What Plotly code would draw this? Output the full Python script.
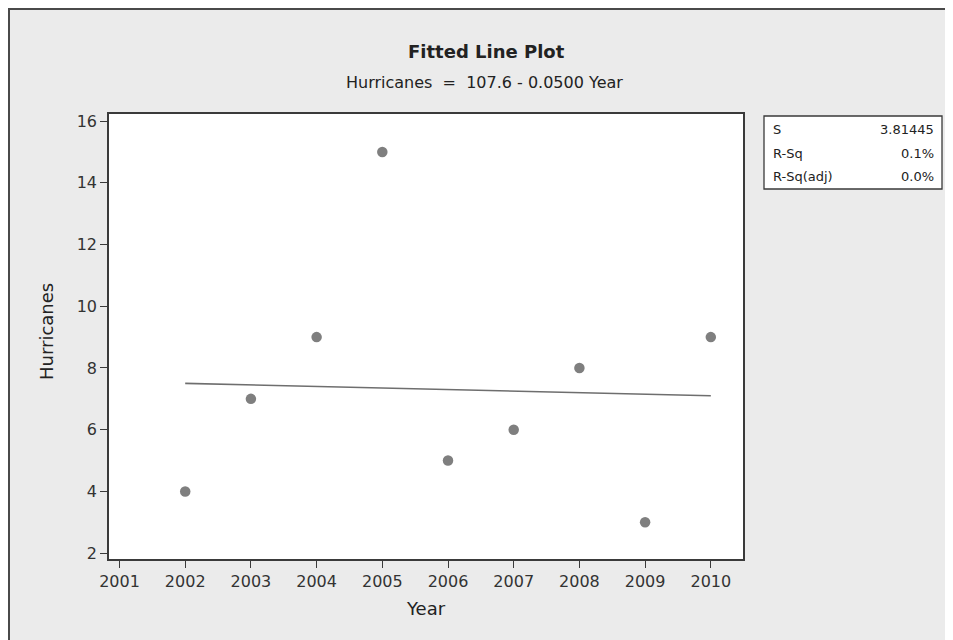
import plotly.graph_objects as go

# ---- data ----
years = [2002, 2003, 2004, 2005, 2006, 2007, 2008, 2009, 2010]
hurricanes = [4, 7, 9, 15, 5, 6, 8, 3, 9]
fit_years = [2002, 2010]
fit_values = [7.5, 7.1]
x_ticks = [2001, 2002, 2003, 2004, 2005, 2006, 2007, 2008, 2009, 2010]
y_ticks = [2, 4, 6, 8, 10, 12, 14, 16]
stat_names = ["S", "R-Sq", "R-Sq(adj)"]
stat_values = ["3.81445", "0.1%", "0.0%"]

# ---- layout geometry (page pixels; the page body adds an 8px offset) ----
OFF = 8
WIDTH, HEIGHT = 953 - OFF, 640 - OFF
L, R, T, B = 109 - OFF, 743 - OFF, 114 - OFF, 559 - OFF
PW, PH = R - L, B - T

def px(x):
    return (x - OFF - L) / PW

def py(y):
    return (B - (y - OFF)) / PH

FONT = "DejaVu Sans"
BG = "#ebebeb"
DARK = "#3a3a3a"

fig = go.Figure()
fig.add_trace(go.Scatter(
    x=fit_years, y=fit_values, mode="lines",
    line=dict(color="#6e6e6e", width=1.6), showlegend=False, hoverinfo="skip"))
fig.add_trace(go.Scatter(
    x=years, y=hurricanes, mode="markers",
    marker=dict(color="#7f7f7f", size=10.5, line=dict(width=0)),
    showlegend=False))

shapes = [
    # outer frame
    dict(type="rect", xref="paper", yref="paper", x0=px(9), x1=px(980), y0=py(680), y1=py(9),
         fillcolor="rgba(0,0,0,0)", line=dict(color="#4a4a4a", width=2), layer="above"),
    # stats box
    dict(type="rect", xref="paper", yref="paper", x0=px(764), x1=px(942), y0=py(189), y1=py(116),
         fillcolor="white", line=dict(color=DARK, width=1.3), layer="above"),
]

annotations = [
    dict(text="<b>Fitted Line Plot</b>", x=px(486), y=py(52), xref="paper", yref="paper",
         showarrow=False, font=dict(family=FONT, size=18, color="#222"), xanchor="center", yanchor="middle"),
    dict(text="Hurricanes  =  107.6 - 0.0500 Year", x=px(484), y=py(83), xref="paper", yref="paper",
         showarrow=False, font=dict(family=FONT, size=16, color="#222"), xanchor="center", yanchor="middle"),
    dict(text="Hurricanes", x=px(46), y=py(331), xref="paper", yref="paper", textangle=-90,
         showarrow=False, font=dict(family=FONT, size=18, color="#222"), xanchor="center", yanchor="middle"),
    dict(text="Year", x=px(426), y=py(608), xref="paper", yref="paper",
         showarrow=False, font=dict(family=FONT, size=18, color="#222"), xanchor="center", yanchor="middle"),
]
row_y = [130, 153, 176]
for name, val, ry in zip(stat_names, stat_values, row_y):
    annotations.append(dict(text=name, x=px(771), y=py(ry), xref="paper", yref="paper", showarrow=False,
                            xanchor="left", yanchor="middle", font=dict(family=FONT, size=13, color="#222")))
    annotations.append(dict(text=val, x=px(936), y=py(ry), xref="paper", yref="paper", showarrow=False,
                            xanchor="right", yanchor="middle", font=dict(family=FONT, size=13, color="#222")))

fig.update_layout(
    width=WIDTH, height=HEIGHT,
    margin=dict(l=L, r=WIDTH - R, t=T, b=HEIGHT - B, pad=0),
    paper_bgcolor=BG, plot_bgcolor="white",
    shapes=shapes, annotations=annotations,
    font=dict(family=FONT, color="#222"),
    xaxis=dict(range=[2000.84, 2010.49], tickvals=x_ticks, ticktext=[str(v) for v in x_ticks],
               showgrid=False, zeroline=False, showline=True, linecolor=DARK, linewidth=1.5,
               mirror=True, ticks="outside", ticklen=7, tickcolor=DARK, tickwidth=1.3,
               tickfont=dict(family=FONT, size=16, color="#333")),
    yaxis=dict(range=[1.81, 16.23], tickvals=y_ticks, ticktext=[str(v) for v in y_ticks],
               showgrid=False, zeroline=False, showline=True, linecolor=DARK, linewidth=1.5,
               mirror=True, ticks="outside", ticklen=7, tickcolor=DARK, tickwidth=1.3,
               tickfont=dict(family=FONT, size=16, color="#333")),
)

fig.write_html("out.html")
